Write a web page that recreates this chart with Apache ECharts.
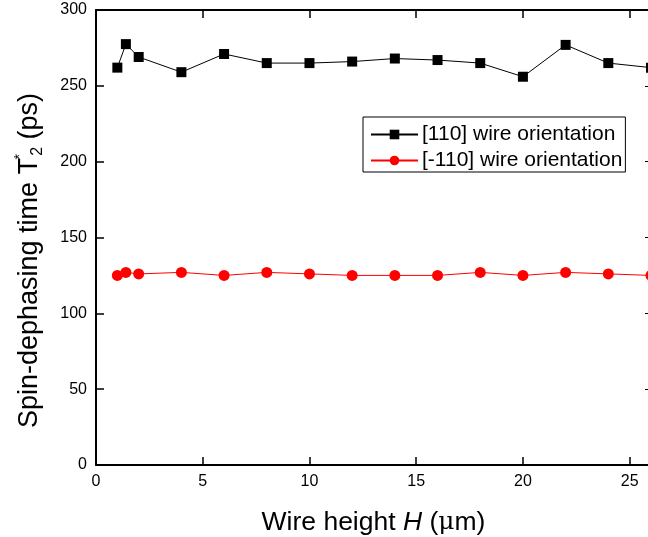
<!DOCTYPE html>
<html>
<head>
<meta charset="utf-8">
<script src="https://cdn.jsdelivr.net/npm/echarts@6/dist/echarts.min.js"></script>
<style>
  html, body { margin: 0; padding: 0; background: #fff; }
  #chart { width: 648px; height: 537px; }
</style>
</head>
<body>
<div id="chart"></div>
<script>
// Wire height H (µm) of each measured sample
const wireHeight = [1, 1.4, 2, 4, 6, 8, 10, 12, 14, 16, 18, 20, 22, 24, 26];
// Spin-dephasing time T2* (ps), [110] oriented wires
const t2Wire110 = [262, 277.5, 269, 259, 271, 265, 265, 266, 268, 267, 265, 256, 277, 265, 262];
// Spin-dephasing time T2* (ps), [-110] oriented wires
const t2WireM110 = [125, 127, 126, 127, 125, 127, 126, 125, 125, 125, 127, 125, 127, 126, 125];

const seriesNames = ['[110] wire orientation', '[-110] wire orientation'];

const FONT = 'Liberation Sans, Arial, sans-serif';

const chart = echarts.init(document.getElementById('chart'), null, { renderer: 'canvas' });

// Frame axes: thick black line, inward-pointing ticks, never snapped to zero
const frameLine = () => ({ show: true, onZero: false, lineStyle: { color: '#000', width: 2 } });
const frameTick = (len, w) => ({ show: true, inside: true, length: len, lineStyle: { color: '#000', width: w } });

chart.setOption({
  animation: false,
  backgroundColor: '#fff',
  grid: { left: 96, right: -3, top: 10, bottom: 72, containLabel: false, outerBoundsMode: 'none' },
  legend: {
    orient: 'vertical',
    left: 363,
    top: 117,
    padding: [7, 3, 1, 7],
    borderColor: '#000',
    borderWidth: 1,
    itemWidth: 47,
    itemHeight: 12,
    itemGap: 5,
    textStyle: { fontFamily: FONT, fontSize: 21, color: '#000', padding: [0, 0, 0, -1] },
    data: seriesNames
  },
  xAxis: [
    {
      type: 'value', position: 'bottom', min: 0, max: 26, interval: 5,
      axisLine: frameLine(), axisTick: frameTick(8, 1.5),
      splitLine: { show: false },
      axisLabel: { color: '#000', fontFamily: FONT, fontSize: 16, margin: 9,
        showMaxLabel: false },
      name: '{n|Wire height }{i|H}{n| (}{mu|\u03bc}{n|m)}',
      nameLocation: 'middle',
      nameGap: 44,
      nameTextStyle: {
        rich: {
          n: { fontFamily: FONT, fontSize: 26.5, color: '#000' },
          i: { fontFamily: FONT, fontSize: 26.5, fontStyle: 'italic', color: '#000' },
          mu: { fontFamily: 'DejaVu Serif, serif', fontSize: 25, color: '#000' }
        }
      }
    },
    {
      type: 'value', position: 'top', min: 0, max: 26, interval: 5,
      axisLine: frameLine(), axisTick: frameTick(8, 1.5),
      splitLine: { show: false },
      axisLabel: { show: false }
    }
  ],
  yAxis: [
    {
      type: 'value', position: 'left', min: 0, max: 300, interval: 50,
      axisLine: frameLine(), axisTick: frameTick(8, 1.5),
      splitLine: { show: false },
      axisLabel: { color: '#000', fontFamily: FONT, fontSize: 16, margin: 9 },
      name: '{n|Spin-dephasing time T}{sup|*}{sub|2}{n| (ps)}',
      nameLocation: 'middle',
      nameRotate: 90,
      nameGap: 50,
      nameTextStyle: {
        padding: [0, 46, 0, 0],
        rich: {
          n: { fontFamily: FONT, fontSize: 27, color: '#000', lineHeight: 32 },
          sup: { fontFamily: FONT, fontSize: 14, color: '#000', width: 0.01, padding: [0, 0, 19, 1], lineHeight: 32 },
          sub: { fontFamily: FONT, fontSize: 16, color: '#000', padding: [15, 0, 0, 1], lineHeight: 32 }
        }
      }
    },
    {
      type: 'value', position: 'right', min: 0, max: 300, interval: 50,
      axisLine: frameLine(), axisTick: frameTick(6, 1),
      splitLine: { show: false },
      axisLabel: { show: false }
    }
  ],
  series: [
    {
      name: seriesNames[0],
      type: 'line',
      xAxisIndex: 0, yAxisIndex: 0,
      data: wireHeight.map((h, i) => [h, t2Wire110[i]]),
      symbol: 'rect',
      symbolSize: 10,
      itemStyle: { color: '#000' },
      lineStyle: { color: '#000', width: 1 },
      clip: false,
      z: 3
    },
    {
      name: seriesNames[1],
      type: 'line',
      xAxisIndex: 0, yAxisIndex: 0,
      data: wireHeight.map((h, i) => [h, t2WireM110[i]]),
      symbol: 'circle',
      symbolSize: 11,
      itemStyle: { color: '#ff0000' },
      lineStyle: { color: '#ff0000', width: 1 },
      clip: false,
      z: 3
    }
  ]
});
</script>
</body>
</html>
